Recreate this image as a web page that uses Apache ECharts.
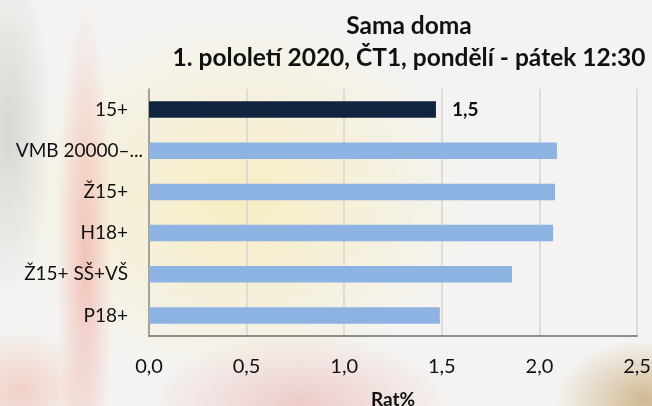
<!DOCTYPE html>
<html>
<head>
<meta charset="utf-8">
<script src="https://cdn.jsdelivr.net/npm/echarts@6/dist/echarts.min.js"></script>
<style>
  html,body{margin:0;padding:0;}
  body{
    width:652px;height:406px;overflow:hidden;
    background:
      radial-gradient(ellipse 90px 60px at 645px 400px, rgba(200,170,120,0.8), rgba(200,170,120,0) 100%),
      radial-gradient(ellipse 150px 70px at 300px 405px, rgba(232,175,175,0.6), rgba(232,175,175,0) 100%),
      radial-gradient(ellipse 70px 60px at 20px 390px, rgba(240,185,170,0.6), rgba(240,185,170,0) 100%),
      radial-gradient(ellipse 28px 260px at 85px 260px, rgba(240,165,155,0.6), rgba(240,165,155,0) 100%),
      radial-gradient(ellipse 230px 180px at 240px 200px, rgba(248,236,185,0.85), rgba(248,236,185,0) 100%),
      radial-gradient(ellipse 45px 170px at 8px 130px, rgba(195,195,190,0.6), rgba(195,195,190,0) 100%),
      #f4f3f1;
  }
  #chart{width:652px;height:406px;}
</style>
</head>
<body>
<div id="chart"></div>
<script>
/* ---------- data ---------- */
const categories = ['15+','VMB 20000–...','Ž15+','H18+','Ž15+ SŠ+VŠ','P18+'];
const values     = [1.47, 2.09, 2.08, 2.07, 1.86, 1.49];
const barColors  = ['#10243f','#8db3e2','#8db3e2','#8db3e2','#8db3e2','#8db3e2'];
const xTicks     = [0, 0.5, 1, 1.5, 2, 2.5];

const fmt = v => v.toFixed(1).replace('.', ',');
const FONT = 'Lato';

const chart = echarts.init(document.getElementById('chart'));
chart.setOption({
  backgroundColor:'transparent',
  animation:false,
  title:{
    text:'Sama doma\n1. pololetí 2020, ČT1, pondělí - pátek 12:30',
    left:404, top:5, textAlign:'center',
    textStyle:{fontFamily:FONT,fontWeight:'bold',fontSize:24.5,lineHeight:32,color:'#111'}
  },
  grid:{left:149, right:15, top:89, bottom:70, containLabel:false, outerBoundsMode:'none'},
  xAxis:{
    type:'value', min:xTicks[0], max:xTicks[xTicks.length-1], interval:0.5,
    name:'Rat%', nameLocation:'middle', nameGap:54,
    nameTextStyle:{fontFamily:FONT,fontWeight:'bold',fontSize:19,color:'#111'},
    axisLine:{show:true,lineStyle:{color:'#8c8c8c',width:2}},
    axisTick:{show:false},
    splitLine:{lineStyle:{color:'#d4d4d4',width:1.5}},
    axisLabel:{formatter:fmt,margin:21,fontFamily:FONT,fontSize:20,color:'#111'}
  },
  yAxis:{
    type:'category', data:categories, inverse:true,
    axisLine:{show:true,lineStyle:{color:'#8c8c8c',width:1.5}},
    axisTick:{show:false},
    axisLabel:{
      margin:6, color:'#111',
      formatter:v => v.length > 10 ? '{b|'+v+'}' : '{a|'+v+'}',
      rich:{
        a:{fontFamily:FONT,fontSize:19,color:'#111',padding:[0,15,0,0]},
        b:{fontFamily:FONT,fontSize:19,color:'#111'}
      }
    }
  },
  series:[{
    type:'bar',
    data:values.map((v,i)=>({
      value:v,
      itemStyle:{color:barColors[i]},
      label:{show:i===0}
    })),
    barWidth:'40%',
    label:{
      position:'right', distance:16, formatter:p=>fmt(p.value),
      fontFamily:FONT, fontWeight:'bold', fontSize:19, color:'#111'
    }
  }]
});
</script>
</body>
</html>
